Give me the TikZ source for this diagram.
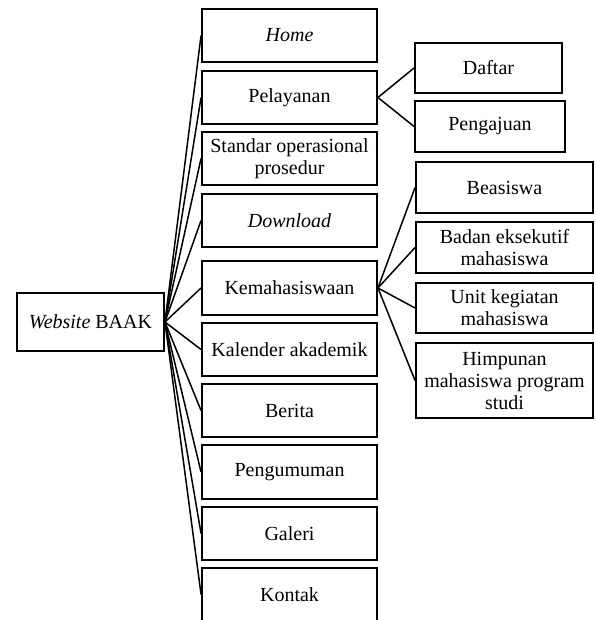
\documentclass[tikz,border=0pt]{standalone}
\usepackage{fontspec}
\setmainfont{Liberation Serif}
\begin{document}
\begin{tikzpicture}[x=1pt,y=1pt,
  box/.style={draw, line width=1.9pt, inner sep=0pt, align=center,
    font=\fontsize{20}{22}\selectfont},
  mid/.style={box, minimum width=175pt, minimum height=53pt},
  rgt/.style={box, minimum width=177pt},
  link/.style={line width=1.5pt}]
\clip (0,0) rectangle (595,-620);
\node[box, minimum width=147pt, minimum height=58pt] (root) at (90.5,-322) {\textit{Website} BAAK};
\node[mid] (home) at (289.5,-35.5) {\textit{Home}};
\node[mid] (pel) at (289.5,-97.5) {Pelayanan};
\node[mid] (sop) at (289.5,-158.5) {Standar operasional\\prosedur};
\node[mid] (down) at (289.5,-220.5) {\textit{Download}};
\node[mid, minimum height=54pt] (kem) at (289.5,-288) {Kemahasiswaan};
\node[mid] (kal) at (289.5,-349.5) {Kalender akademik};
\node[mid] (ber) at (289.5,-410.5) {Berita};
\node[mid, minimum height=54pt] (peng) at (289.5,-472) {Pengumuman};
\node[mid] (gal) at (289.5,-533.5) {Galeri};
\node[mid] (kon) at (289.5,-594.5) {Kontak};
\node[box, minimum width=147pt, minimum height=50pt] (daf) at (488.5,-68) {Daftar};
\node[box, minimum width=150pt, minimum height=51pt] (paj) at (490,-126.5) {Pengajuan};
\node[rgt, minimum height=51pt] (bea) at (504.5,-187.5) {Beasiswa};
\node[rgt, minimum height=51pt] (bem) at (504.5,-247.5) {Badan eksekutif\\mahasiswa};
\node[rgt, minimum height=50pt] (ukm) at (504.5,-308) {Unit kegiatan\\mahasiswa};
\node[rgt, minimum height=75pt] (him) at (504.5,-380.5) {Himpunan\\mahasiswa program\\studi};
\foreach \n in {home,pel,sop,down,kem,kal,ber,peng,gal,kon}
  \draw[link] (root.east) -- (\n.west);
\foreach \n in {daf,paj}
  \draw[link] (pel.east) -- (\n.west);
\foreach \n in {bea,bem,ukm,him}
  \draw[link] (kem.east) -- (\n.west);
\end{tikzpicture}
\end{document}
